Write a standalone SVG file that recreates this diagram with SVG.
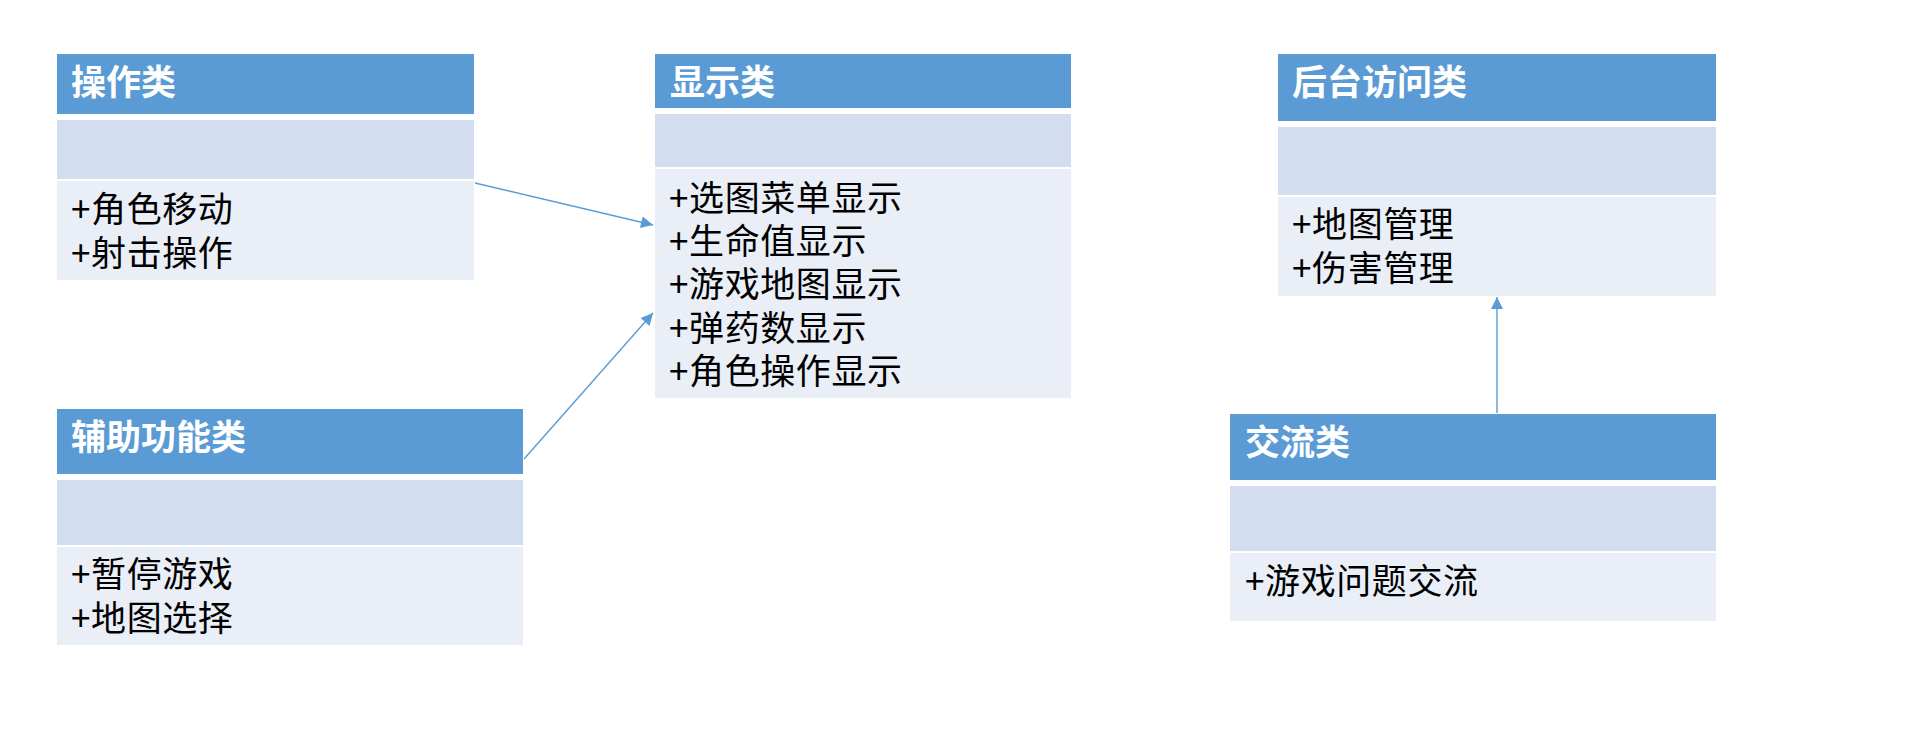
<svg xmlns="http://www.w3.org/2000/svg" width="1912" height="742" viewBox="0 0 1912 742">
<style>
.h{fill:#5B9BD5}
.m{fill:#D2DEEF}
.b{fill:#E9EEF7}
.t{font-family:"Noto Sans CJK SC","Liberation Sans",sans-serif;font-size:35px;font-weight:bold;fill:#FFFFFF}
.i{font-family:"Noto Sans CJK SC","Liberation Sans",sans-serif;font-size:35px;letter-spacing:0.6px;fill:#000000}
.c{stroke:#5B9BD5;stroke-width:1.4;fill:none}
</style>
<defs>
<marker id="arrL" viewBox="0 0 10 10" refX="10" refY="5" markerWidth="13" markerHeight="12" markerUnits="userSpaceOnUse" orient="auto">
<path d="M0,0 L10,5 L0,10 z" fill="#5B9BD5"/>
</marker>
</defs>
<rect width="1912" height="742" fill="#FFFFFF"/>
<g id="caozuo">
<rect class="h" x="57" y="54" width="417" height="60"/>
<rect class="m" x="57" y="120" width="417" height="59"/>
<rect class="b" x="57" y="181" width="417" height="99"/>
<text class="t" x="71" y="95">操作类</text>
<text class="i" x="71" y="222">+角色移动</text>
<text class="i" x="71" y="266">+射击操作</text>
</g>
<g id="xianshi">
<rect class="h" x="655" y="54" width="416" height="54"/>
<rect class="m" x="655" y="114" width="416" height="53"/>
<rect class="b" x="655" y="169" width="416" height="229"/>
<text class="t" x="670" y="95">显示类</text>
<text class="i" x="669" y="211">+选图菜单显示</text>
<text class="i" x="669" y="254">+生命值显示</text>
<text class="i" x="669" y="297">+游戏地图显示</text>
<text class="i" x="669" y="341">+弹药数显示</text>
<text class="i" x="669" y="384">+角色操作显示</text>
</g>
<g id="houtai">
<rect class="h" x="1278" y="54" width="438" height="67"/>
<rect class="m" x="1278" y="127" width="438" height="68"/>
<rect class="b" x="1278" y="197" width="438" height="99"/>
<text class="t" x="1292" y="95">后台访问类</text>
<text class="i" x="1292" y="237">+地图管理</text>
<text class="i" x="1292" y="281">+伤害管理</text>
</g>
<g id="fuzhu">
<rect class="h" x="57" y="409" width="466" height="65"/>
<rect class="m" x="57" y="480" width="466" height="65"/>
<rect class="b" x="57" y="547" width="466" height="98"/>
<text class="t" x="71" y="450">辅助功能类</text>
<text class="i" x="71" y="587">+暂停游戏</text>
<text class="i" x="71" y="631">+地图选择</text>
</g>
<g id="jiaoliu">
<rect class="h" x="1230" y="414" width="486" height="66"/>
<rect class="m" x="1230" y="486" width="486" height="65"/>
<rect class="b" x="1230" y="553" width="486" height="68"/>
<text class="t" x="1245" y="455">交流类</text>
<text class="i" x="1245" y="594">+游戏问题交流</text>
</g>
<g id="connectors">
<line class="c" x1="475" y1="183" x2="653" y2="225" marker-end="url(#arrL)"/>
<line class="c" x1="524" y1="459" x2="653" y2="313" marker-end="url(#arrL)"/>
<line class="c" x1="1497" y1="413" x2="1497" y2="297" marker-end="url(#arrL)"/>
</g>
</svg>
